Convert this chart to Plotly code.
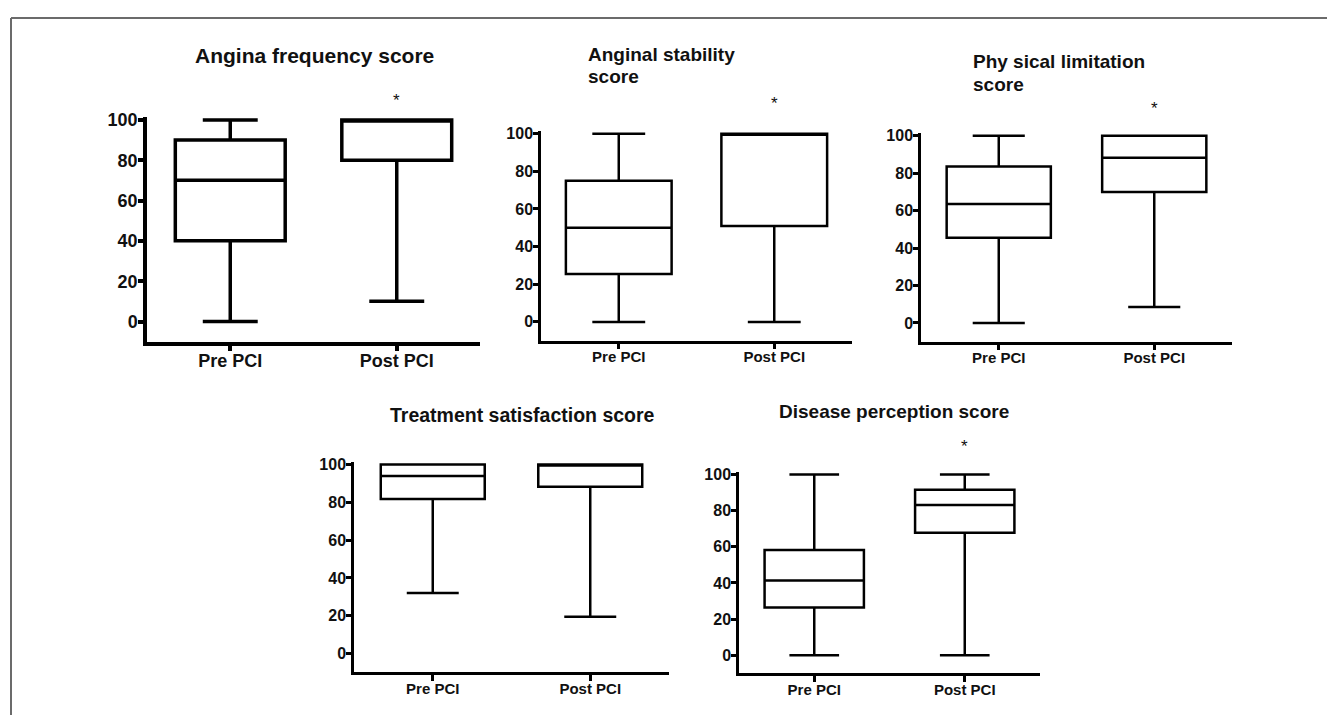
import plotly.graph_objects as go

W, H = 1327, 715

categories = ["Pre PCI", "Post PCI"]

# each title as list of lines
titles = [
    ["Angina frequency score"],
    ["Anginal stability", "score"],
    ["Phy sical limitation", "score"],
    ["Treatment satisfaction score"],
    ["Disease perception score"],
]

# per panel: [Pre PCI, Post PCI]
mins    = [[0, 10],   [0, 0],    [0, 8.5],    [32, 19.5],  [0, 0]]
q1s     = [[40, 80],  [25.5, 51], [45.5, 70], [81.7, 88.2], [26.4, 67.8]]
medians = [[70, 100], [50, 100], [63.6, 88.3], [93.9, 100], [41.3, 83.1]]
q3s     = [[90, 100], [75, 100], [83.5, 100], [100, 100],  [58.2, 91.5]]
maxs    = [[100, 100], [100, 100], [100, 100], [100, 100], [100, 100]]
significant = [True, True, True, False, True]

ytickvals = [0, 20, 40, 60, 80, 100]

# layout (pixels): x_left, x_right, y100 (px of value 100), ym10 (px of value -10)
panels_px = [
    dict(x0=147, x1=480, y100=114, ym10=338, lw=3.5, tick=18, xl=18, tf=21,
         title_x=314, title_y=[49], title_anchor="center", star_y=94, xs=-6),
    dict(x0=541, x1=852, y100=128, ym10=337, lw=2.5, tick=16, xl=15, tf=19,
         title_x=586, title_y=[48, 70], title_anchor="left", star_y=97, xs=-5),
    dict(x0=921, x1=1232, y100=130, ym10=338, lw=2.5, tick=16, xl=15, tf=19,
         title_x=971, title_y=[55, 78], title_anchor="left", star_y=102, xs=-5),
    dict(x0=354, x1=669, y100=462, ym10=672, lw=2.5, tick=16, xl=15, tf=19.5,
         title_x=522, title_y=[412], title_anchor="center", star_y=None, xs=-5),
    dict(x0=739, x1=1040, y100=472, ym10=673, lw=2.5, tick=16, xl=15, tf=19,
         title_x=894, title_y=[408], title_anchor="center", star_y=444, xs=-5),
]

box_widths = [0.66, 0.68, 0.67, 0.66, 0.66]
YTOP = 101.2

def px(x):
    return x / W

def py(y):
    return 1 - y / H

fig = go.Figure()
annotations = []
FONT = "Liberation Sans, Arial, sans-serif"

for i, p in enumerate(panels_px):
    n = i + 1
    xa = "x" if n == 1 else f"x{n}"
    ya = "y" if n == 1 else f"y{n}"
    unit = (p["ym10"] - p["y100"]) / 110.0
    ytop_px = p["y100"] - (YTOP - 100) * unit

    fig.add_trace(go.Box(
        x=categories,
        q1=q1s[i], median=medians[i], q3=q3s[i],
        lowerfence=mins[i], upperfence=maxs[i],
        width=box_widths[i], whiskerwidth=0.5,
        fillcolor="white",
        line=dict(color="black", width=p["lw"]),
        boxpoints=False, hoverinfo="skip",
        xaxis=xa, yaxis=ya, showlegend=False,
    ))

    xkey = "xaxis" if n == 1 else f"xaxis{n}"
    ykey = "yaxis" if n == 1 else f"yaxis{n}"
    fig.update_layout(**{
        xkey: dict(
            domain=[px(p["x0"]), px(p["x1"])],
            anchor=ya, type="category",
            categoryorder="array", categoryarray=categories,
            range=[-0.5, 1.5],
            showline=True, linecolor="black", linewidth=p["lw"],
            ticks="outside", ticklen=6, tickwidth=p["lw"], tickcolor="black",
            ticklabelstandoff=p["xs"],
            showgrid=False, zeroline=False,
            tickfont=dict(family=FONT, size=p["xl"], color="#111", weight="bold"),
        ),
        ykey: dict(
            domain=[py(p["ym10"]), py(ytop_px)],
            anchor=xa, range=[-10, YTOP],
            tickvals=ytickvals,
            showline=True, linecolor="black", linewidth=p["lw"],
            ticks="outside", ticklen=5, tickwidth=p["lw"], tickcolor="black",
            ticklabelstandoff=-3,
            showgrid=False, zeroline=False,
            tickfont=dict(family=FONT, size=p["tick"], color="#111", weight="bold"),
        ),
    })

    for line, ty in zip(titles[i], p["title_y"]):
        annotations.append(dict(
            text=f"<b>{line}</b>", xref="paper", yref="paper",
            x=px(p["title_x"]), y=py(ty),
            xanchor=p["title_anchor"], yanchor="middle", align="left",
            showarrow=False,
            font=dict(family=FONT, size=p["tf"], color="#111"),
        ))
    if significant[i]:
        annotations.append(dict(
            text="*", xref=xa, yref="paper",
            x=categories[1], y=py(p["star_y"]),
            xanchor="center", yanchor="middle", showarrow=False,
            font=dict(family=FONT, size=17, color="#111"),
        ))

shapes = [
    dict(type="line", xref="paper", yref="paper",
         x0=px(11), y0=py(11), x1=1.0, y1=py(11),
         line=dict(color="#6b6b6b", width=2)),
    dict(type="line", xref="paper", yref="paper",
         x0=px(11), y0=py(11), x1=px(11), y1=0.0,
         line=dict(color="#6b6b6b", width=2)),
]

fig.update_layout(
    width=W, height=H, autosize=False,
    margin=dict(l=0, r=0, t=0, b=0),
    paper_bgcolor="white", plot_bgcolor="white",
    annotations=annotations, shapes=shapes,
    showlegend=False,
)

fig.write_html("out.html", config={"displayModeBar": False},
               post_script="document.body.style.margin='0';")
